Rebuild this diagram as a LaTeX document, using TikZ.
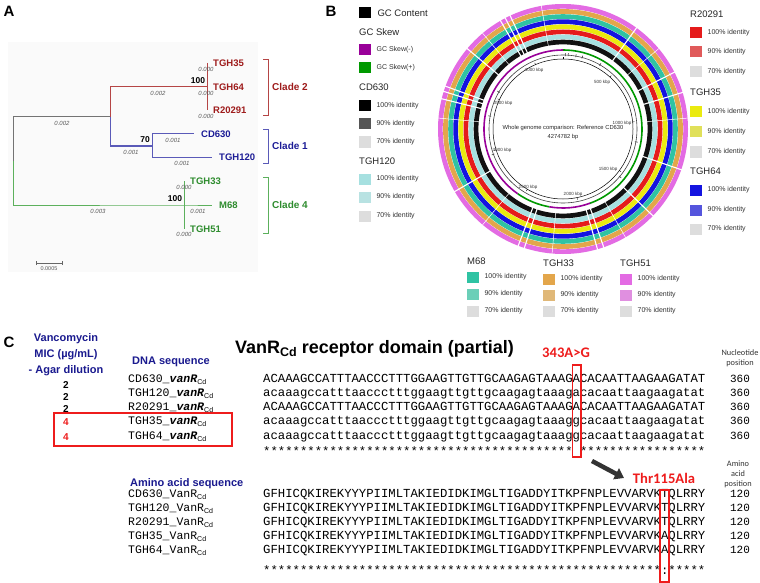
\documentclass[tikz,border=0pt]{standalone}
\usepackage{fontspec}
\setmainfont{Liberation Sans}
\setsansfont{Liberation Sans}
\setmonofont{Liberation Mono}
\newfontfamily\calib{Carlito}
\usetikzlibrary{arrows.meta}
\ExplSyntaxOn
\cs_new:Npn \myrep #1#2 {\prg_replicate:nn{#1}{#2}}
\ExplSyntaxOff
\definecolor{tred}{HTML}{9E1B1B}
\definecolor{tredl}{HTML}{B54545}
\definecolor{tblue}{HTML}{1C1C96}
\definecolor{tbluel}{HTML}{5A5AB8}
\definecolor{tgreen}{HTML}{2E8C2E}
\definecolor{tgreenl}{HTML}{5CB05C}
\definecolor{navy}{HTML}{1A1A8F}
\definecolor{cred}{HTML}{EE1C1C}
\definecolor{rpink}{HTML}{E36BE3}
\definecolor{rorange}{HTML}{E3A64B}
\definecolor{rteal}{HTML}{2FC3A3}
\definecolor{rblue}{HTML}{1414E0}
\definecolor{ryellow}{HTML}{EAEA10}
\definecolor{rred}{HTML}{E51B1B}
\definecolor{rcyan}{HTML}{A6E0E0}
\definecolor{rblack}{HTML}{111111}
\definecolor{pink90}{HTML}{E08FE0}
\definecolor{orange90}{HTML}{E0B878}
\definecolor{teal90}{HTML}{6BCFB8}
\definecolor{blue90}{HTML}{5555DD}
\definecolor{yellow90}{HTML}{E0E05A}
\definecolor{red90}{HTML}{E05A5A}
\definecolor{cyan90}{HTML}{B8E2E2}
\definecolor{black90}{HTML}{555555}
\definecolor{gray70}{HTML}{DDDDDD}
\definecolor{skewp}{HTML}{990099}
\definecolor{skewg}{HTML}{009900}
\newcommand\cdsub{\raisebox{-0.35ex}{\sffamily\mdseries\upshape\fontsize{7}{7}\selectfont Cd}}
\newcommand\lgitem[5]{%
  \node[lsq, fill=#3] (#5) at (#1,#2) {};
  \node[ltx] at ([xshift=5pt]#5.east) {#4};}
\tikzset{
  panel/.style={font=\fontsize{15}{15}\selectfont\bfseries, inner sep=0},
  lab/.style={font=\fontsize{9.5}{10}\selectfont\bfseries, anchor=west, inner sep=0},
  blen/.style={font=\fontsize{6}{6}\selectfont\itshape, text=black!65, inner sep=0},
  boot/.style={font=\fontsize{8.5}{9}\selectfont\bfseries, inner sep=0},
  clade/.style={font=\fontsize{10}{10}\selectfont\bfseries, anchor=west, inner sep=0},
  brline/.style={line width=1pt},
  lsq/.style={minimum width=12pt, minimum height=11pt, anchor=west, inner sep=0, draw=none},
  ltx/.style={anchor=west, inner sep=0, font=\fontsize{7}{7}\selectfont, text=black!80},
  lhd/.style={anchor=west, inner sep=0, font=\fontsize{9.5}{10}\selectfont, text=black!85},
  ticklab/.style={font=\fontsize{4.5}{5}\selectfont, text=black!80, inner sep=0},
  seqtxt/.style={font=\ttfamily\fontsize{12.28}{14}\selectfont, anchor=base west, inner sep=0},
  nmtxt/.style={font=\ttfamily\fontsize{11.5}{14}\selectfont, anchor=base west, inner sep=0},
  posnum/.style={font=\ttfamily\fontsize{11}{14}\selectfont, anchor=base, inner sep=0},
  navyt/.style={font=\fontsize{11}{12}\selectfont\bfseries, text=navy, inner sep=0},
  mictxt/.style={font=\fontsize{10}{10}\selectfont\bfseries, inner sep=0},
  smalltxt/.style={font=\calib\fontsize{8.3}{10}\selectfont, text=black!80, inner sep=0, align=center},
  muttxt/.style={font=\calib\fontsize{14.6}{15}\selectfont\bfseries, text=cred, inner sep=0},
  redbox/.style={draw=cred, line width=1.3pt}
}
\begin{document}
\begin{tikzpicture}[x=1pt,y=-1pt]
\fill[white] (0,0) rectangle (760,583);
\useasboundingbox (0,0) rectangle (760,583);
% ================= Panel A =================
\node[panel] (A) at (9,11) {A};
\fill[black!2] (8,42) rectangle (258,272);
\coordinate (rt) at (13,117); \coordinate (rm) at (13,161); \coordinate (rb) at (13,205);
\coordinate (n1) at (110,117); \coordinate (n1t) at (110,87); \coordinate (n1b) at (110,146);
\coordinate (n2) at (207,87); \coordinate (n2t) at (207,63); \coordinate (n2b) at (207,110);
\coordinate (n3) at (152,146); \coordinate (n3t) at (152,134); \coordinate (n3b) at (152,157);
\coordinate (cd) at (194,134); \coordinate (t120) at (212,157);
\coordinate (n4) at (184,205); \coordinate (n4t) at (184,181); \coordinate (n4b) at (184,229);
\coordinate (m68) at (212,205);
\draw[brline, black!55] (rm) -- (rt) -- (n1);
\draw[brline, tgreenl] (rm) -- (rb) -- (n4) -- (m68);
\draw[brline, tgreenl] (n4t) -- (n4b);
\draw[brline, tredl] (n1) -- (n1t) -- (n2);
\draw[brline, tredl] (n2t) -- (n2b);
\draw[brline, tbluel] (n1) -- (n1b) -- (n3);
\draw[brline, tbluel] (n3t) -- (n3b);
\draw[brline, tbluel] (n3t) -- (cd);
\draw[brline, tbluel] (n3b) -- (t120);
\node[lab, text=tred] (lTGH35) at (213,63) {TGH35};
\node[lab, text=tred] (lTGH64) at (213,87) {TGH64};
\node[lab, text=tred] (lR20291) at (213,110) {R20291};
\node[lab, text=tblue] (lCD630) at (201,134) {CD630};
\node[lab, text=tblue] (lTGH120) at (219,157) {TGH120};
\node[lab, text=tgreen] (lTGH33) at (190,181) {TGH33};
\node[lab, text=tgreen] (lM68) at (219,205) {M68};
\node[lab, text=tgreen] (lTGH51) at (190,229) {TGH51};
\node[blen] (b1) at (62,123) {0.002};
\node[blen] (b2) at (158,93) {0.002};
\node[blen] (b3) at (206,69) {0.000};
\node[blen] (b4) at (206,93) {0.000};
\node[blen] (b5) at (206,116) {0.000};
\node[blen] (b6) at (131,152) {0.001};
\node[blen] (b7) at (173,140) {0.001};
\node[blen] (b8) at (182,163) {0.001};
\node[blen] (b9) at (98,211) {0.003};
\node[blen] (b10) at (198,211) {0.001};
\node[blen] (b11) at (184,187) {0.000};
\node[blen] (b12) at (184,234) {0.000};
\node[boot] (bs1) at (198,81) {100};
\node[boot] (bs2) at (145,140) {70};
\node[boot] (bs3) at (175,199) {100};
\coordinate (sb1) at (36,263); \coordinate (sb2) at (62,263);
\draw[black!60, line width=0.6pt] (sb1) -- (sb2);
\draw[black!60, line width=0.6pt] ([yshift=-2pt]sb1) -- ([yshift=2pt]sb1);
\draw[black!60, line width=0.6pt] ([yshift=-2pt]sb2) -- ([yshift=2pt]sb2);
\node[blen, font=\fontsize{5.5}{6}\selectfont] (sbl) at (49,269) {0.0005};
\draw[tredl, line width=0.9pt] (263,59) -- (268,59) -- (268,115) -- (263,115);
\draw[tbluel, line width=0.9pt] (263,129) -- (268,129) -- (268,163) -- (263,163);
\draw[tgreenl, line width=0.9pt] (263,177) -- (268,177) -- (268,233) -- (263,233);
\node[clade, text=tred] (c2) at (272,87) {Clade 2};
\node[clade, text=tblue] (c1) at (272,146) {Clade 1};
\node[clade, text=tgreen] (c4) at (272,205) {Clade 4};
% ================= Panel B =================
\node[panel] (B) at (331,11) {B};
\node[lsq, fill=black] (gcc) at (359,13) {};
\node[lhd] at ([xshift=6pt]gcc.east) {GC Content};
\node[lhd] (hskew) at (359,32) {GC Skew};
\lgitem{359}{50}{skewp}{GC Skew(-)}{sk1}
\lgitem{359}{68}{skewg}{GC Skew(+)}{sk2}
\node[lhd] (hcd) at (359,87) {CD630};
\lgitem{359}{106}{black}{100\% identity}{cd1}
\lgitem{359}{124}{black90}{90\% identity}{cd2}
\lgitem{359}{142}{gray70}{70\% identity}{cd3}
\node[lhd] (h120) at (359,161) {TGH120};
\lgitem{359}{179}{rcyan}{100\% identity}{t1}
\lgitem{359}{197}{cyan90}{90\% identity}{t2}
\lgitem{359}{216}{gray70}{70\% identity}{t3}
\node[lhd] (hr) at (690,14) {R20291};
\lgitem{690}{33}{rred}{100\% identity}{r1}
\lgitem{690}{52}{red90}{90\% identity}{r2}
\lgitem{690}{72}{gray70}{70\% identity}{r3}
\node[lhd] (h35) at (690,92) {TGH35};
\lgitem{690}{112}{ryellow}{100\% identity}{y1}
\lgitem{690}{132}{yellow90}{90\% identity}{y2}
\lgitem{690}{152}{gray70}{70\% identity}{y3}
\node[lhd] (h64) at (690,171) {TGH64};
\lgitem{690}{190}{rblue}{100\% identity}{u1}
\lgitem{690}{210}{blue90}{90\% identity}{u2}
\lgitem{690}{229}{gray70}{70\% identity}{u3}
\node[lhd] (hm) at (467,261) {M68};
\lgitem{467}{277}{rteal}{100\% identity}{m1}
\lgitem{467}{294}{teal90}{90\% identity}{m2}
\lgitem{467}{311}{gray70}{70\% identity}{m3}
\node[lhd] (h33) at (543,263) {TGH33};
\lgitem{543}{279}{rorange}{100\% identity}{o1}
\lgitem{543}{295}{orange90}{90\% identity}{o2}
\lgitem{543}{311}{gray70}{70\% identity}{o3}
\node[lhd] (h51) at (620,263) {TGH51};
\lgitem{620}{279}{rpink}{100\% identity}{p1}
\lgitem{620}{295}{pink90}{90\% identity}{p2}
\lgitem{620}{311}{gray70}{70\% identity}{p3}
% circle
\coordinate (C) at (563,129);
\foreach \c [count=\i from 0] in {rpink,rorange,rteal,rblue,ryellow,rred,rcyan,rblack} {
  \pgfmathsetmacro\ro{125-5.1*\i}
  \pgfmathsetmacro\ri{\ro-4.7}
  \fill[\c, even odd rule] (C) circle (\ro pt) circle (\ri pt);
}
\foreach \a in {115,117.5,120,160,162.5,166,-71,-74,-108,-111,27,17,-19,-44,54,140,-150} {
  \draw[white, line width=1.1pt] (C) ++(\a:83pt) -- ++(\a:43pt);
}
\foreach \a in {100,130,175,-60,-95,40,5,-130} {
  \draw[white, line width=0.5pt] (C) ++(\a:83pt) -- ++(\a:43pt);
}
\draw[skewg, line width=1.6pt] (C) ++(90:79pt) arc[start angle=90, end angle=-70, radius=79pt];
\draw[skewp, line width=1.6pt] (C) ++(-70:79pt) arc[start angle=-70, end angle=-100, radius=79pt];
\draw[skewg, line width=1.6pt] (C) ++(-100:79pt) arc[start angle=-100, end angle=-125, radius=79pt];
\draw[skewp, line width=1.6pt] (C) ++(-125:79pt) arc[start angle=-125, end angle=-270, radius=79pt];
\draw[black!75, line width=0.6pt] (C) circle (74pt);
\foreach \a in {88,86,80,75,60,-10,-40,150,170,200} {
  \draw[black!80, line width=0.5pt] (C) ++(\a:73pt) -- ++(\a:3pt);
}
\draw[black, line width=0.5pt] (C) circle (70pt);
\foreach \k in {0,...,8} {
  \draw[black, line width=0.4pt] (C) ++({90-\k*42.11}:70pt) -- ++({90-\k*42.11}:2pt);
}
\node[ticklab] (k4000) at (534,70) {4000 kbp};
\node[ticklab] (k500) at (602,82) {500 kbp};
\node[ticklab] (k3500) at (503,103) {3500 kbp};
\node[ticklab] (k1000) at (622,123) {1000 kbp};
\node[ticklab] (k3000) at (502,150) {3000 kbp};
\node[ticklab] (k1500) at (608,169) {1500 kbp};
\node[ticklab] (k2500) at (528,187) {2500 kbp};
\node[ticklab] (k2000) at (573,194) {2000 kbp};
\node[inner sep=0, font=\fontsize{5.8}{6}\selectfont, text=black!85] (ct1) at (563,128) {Whole genome comparison: Reference CD630};
\node[inner sep=0, font=\fontsize{5.8}{6}\selectfont, text=black!85] (ct2) at (563,137) {4274782 bp};
% ================= Panel C =================
\node[panel] (Cl) at (9,342) {C};
\node[navyt] (v1) at (66,339) {Vancomycin};
\node[navyt] (v2) at (66,355) {MIC (µg/mL)};
\node[navyt] (v3) at (66,371) {- Agar dilution};
\node[navyt] (dnah) at (171,362) {DNA sequence};
\node[navyt, anchor=west] (aah) at (130,484) {Amino acid sequence};
\node[mictxt] (m1v) at (66,385) {2};
\node[mictxt] (m2v) at (66,397) {2};
\node[mictxt] (m3v) at (66,409) {2};
\node[mictxt, text=cred] (m4v) at (66,422) {4};
\node[mictxt, text=cred] (m5v) at (66,437) {4};
\draw[redbox] (54,413) rectangle (232,446);
\node[nmtxt] (d1) at (128,382) {CD630\_\textbf{\textit{vanR}}\cdsub};
\node[nmtxt] (d2) at (128,396) {TGH120\_\textbf{\textit{vanR}}\cdsub};
\node[nmtxt] (d3) at (128,410) {R20291\_\textbf{\textit{vanR}}\cdsub};
\node[nmtxt] (d4) at (128,424) {TGH35\_\textbf{\textit{vanR}}\cdsub};
\node[nmtxt] (d5) at (128,439) {TGH64\_\textbf{\textit{vanR}}\cdsub};
\node[anchor=base west, inner sep=0, font=\fontsize{18}{18}\selectfont\bfseries] (title) at (235,353)
  {VanR\raisebox{-0.35ex}{\fontsize{12.5}{12}\selectfont Cd} receptor domain (partial)};
\node[muttxt] (m343) at (566,353) {343A>G};
\node[smalltxt] (np) at (740,358) {Nucleotide\\position};
\node[seqtxt] (s1) at (263,382) {ACAAAGCCATTTAACCCTTTGGAAGTTGTTGCAAGAGTAAAGACACAATTAAGAAGATAT};
\node[seqtxt] (s2) at (263,396) {acaaagccatttaaccctttggaagttgttgcaagagtaaagacacaattaagaagatat};
\node[seqtxt] (s3) at (263,410) {ACAAAGCCATTTAACCCTTTGGAAGTTGTTGCAAGAGTAAAGACACAATTAAGAAGATAT};
\node[seqtxt] (s4) at (263,424) {acaaagccatttaaccctttggaagttgttgcaagagtaaaggcacaattaagaagatat};
\node[seqtxt] (s5) at (263,439) {acaaagccatttaaccctttggaagttgttgcaagagtaaaggcacaattaagaagatat};
\node[seqtxt] (s6) at (263,455) {\myrep{42}{*}\phantom{*}\myrep{17}{*}};
\foreach \y in {382,396,410,424,439} { \node[posnum] at (740,\y) {360}; }
\draw[redbox, line width=1.2pt] (572.5,365) rectangle (581,457);
\coordinate (ar1) at (592,461);
\coordinate (ar2) at (624,478);
\draw[black!80, line width=4.5pt, -{Triangle[length=9pt,width=12pt]}] (ar1) -- (ar2);
\node[muttxt] (thr) at (664,478) {Thr115Ala};
\node[smalltxt] (ap) at (738,474) {Amino\\acid\\position};
\node[nmtxt] (p1n) at (128,497) {CD630\_VanR\cdsub};
\node[nmtxt] (p2n) at (128,511) {TGH120\_VanR\cdsub};
\node[nmtxt] (p3n) at (128,525) {R20291\_VanR\cdsub};
\node[nmtxt] (p4n) at (128,539) {TGH35\_VanR\cdsub};
\node[nmtxt] (p5n) at (128,553) {TGH64\_VanR\cdsub};
\node[seqtxt] (q1) at (263,497) {GFHICQKIREKYYYPIIMLTAKIEDIDKIMGLTIGADDYITKPFNPLEVVARVKTQLRRY};
\node[seqtxt] (q2) at (263,511) {GFHICQKIREKYYYPIIMLTAKIEDIDKIMGLTIGADDYITKPFNPLEVVARVKTQLRRY};
\node[seqtxt] (q3) at (263,525) {GFHICQKIREKYYYPIIMLTAKIEDIDKIMGLTIGADDYITKPFNPLEVVARVKTQLRRY};
\node[seqtxt] (q4) at (263,539) {GFHICQKIREKYYYPIIMLTAKIEDIDKIMGLTIGADDYITKPFNPLEVVARVKAQLRRY};
\node[seqtxt] (q5) at (263,553) {GFHICQKIREKYYYPIIMLTAKIEDIDKIMGLTIGADDYITKPFNPLEVVARVKAQLRRY};
\node[seqtxt] (q6) at (263,574) {\myrep{54}{*}:\myrep{5}{*}};
\foreach \y in {497,511,525,539,553} { \node[posnum] at (740,\y) {120}; }
\draw[redbox, line width=1.2pt] (660,490) rectangle (669,582);
\end{tikzpicture}
\end{document}
